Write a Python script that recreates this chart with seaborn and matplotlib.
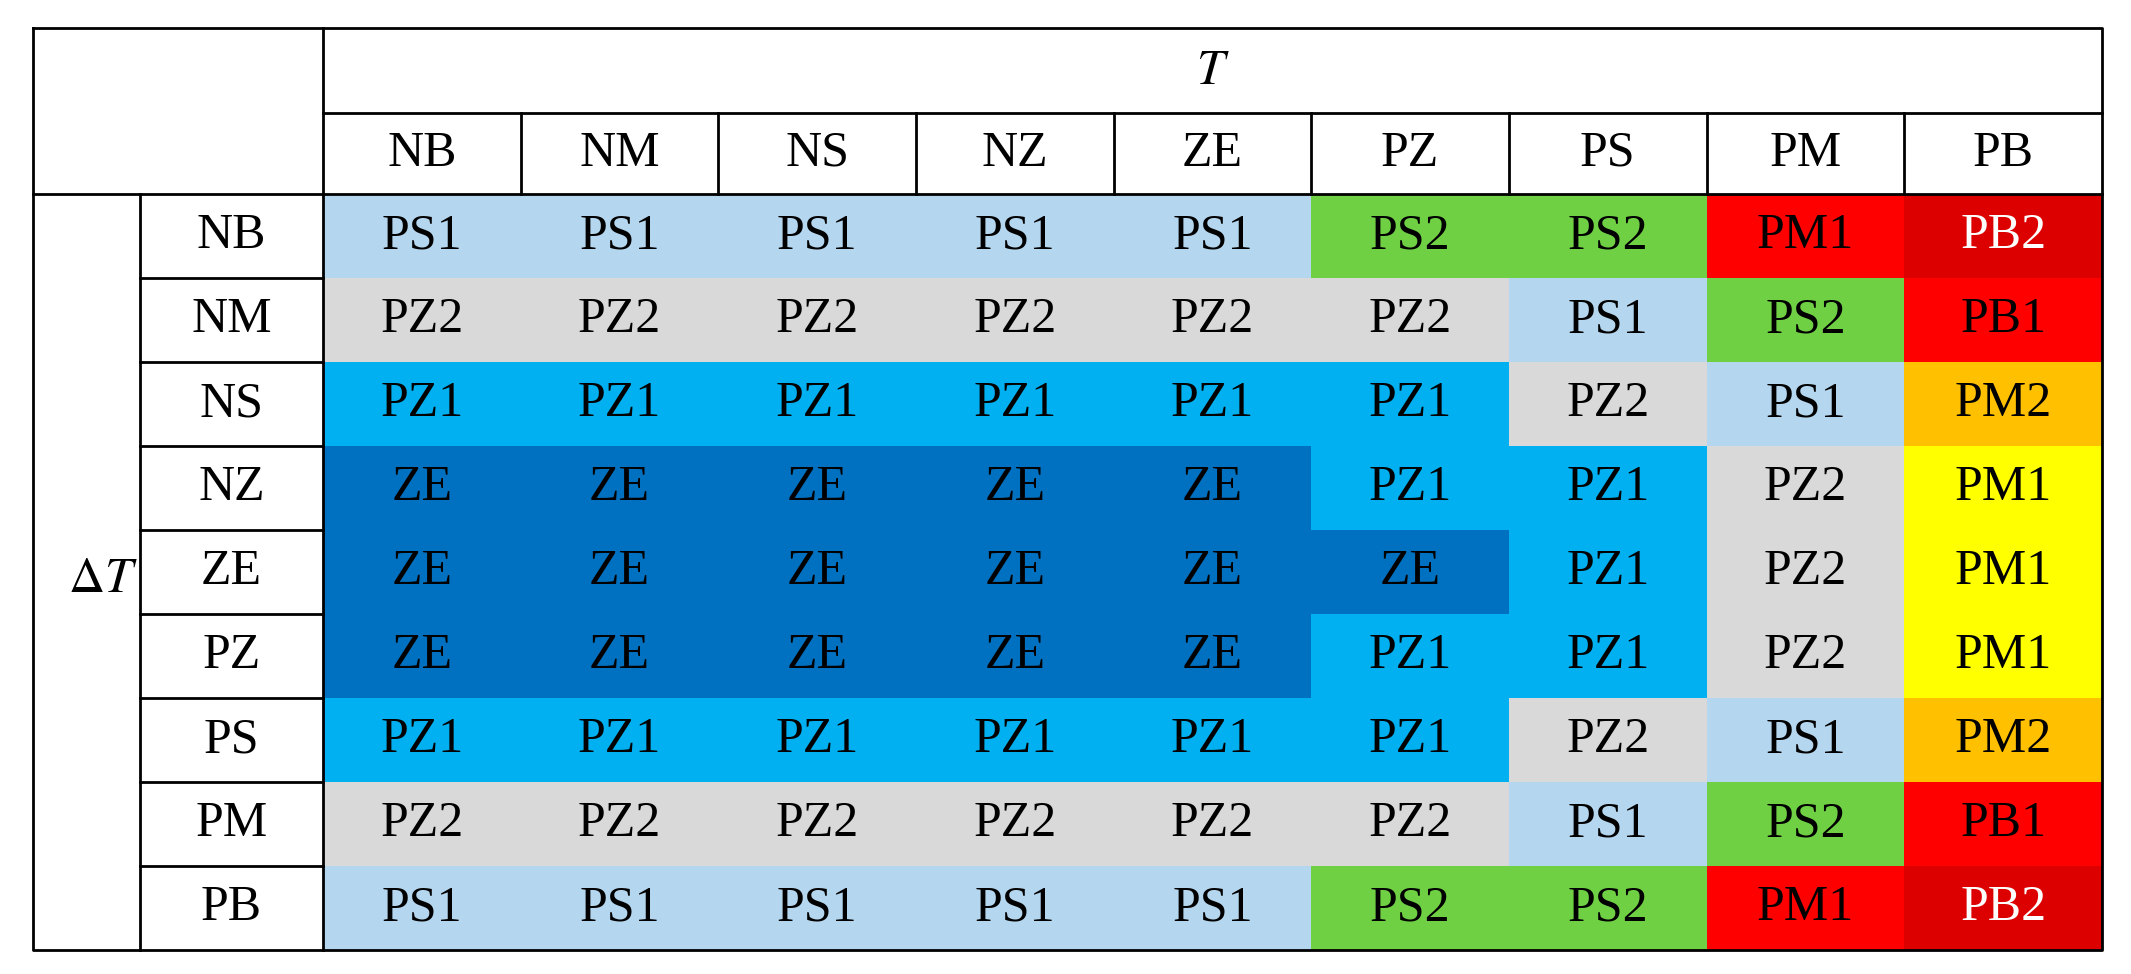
import numpy as np
import pandas as pd
import matplotlib.pyplot as plt
import seaborn as sns
from matplotlib.colors import ListedColormap

# Rótulos linguísticos
t_labels = ['NB', 'NM', 'NS', 'NZ', 'ZE', 'PZ', 'PS', 'PM', 'PB']
dt_labels = ['NB', 'NM', 'NS', 'NZ', 'ZE', 'PZ', 'PS', 'PM', 'PB']

# Saída da regra (texto de cada célula)
rule_out = [
    ['PS1', 'PS1', 'PS1', 'PS1', 'PS1', 'PS2', 'PS2', 'PM1', 'PB2'],
    ['PZ2', 'PZ2', 'PZ2', 'PZ2', 'PZ2', 'PZ2', 'PS1', 'PS2', 'PB1'],
    ['PZ1', 'PZ1', 'PZ1', 'PZ1', 'PZ1', 'PZ1', 'PZ2', 'PS1', 'PM2'],
    ['ZE', 'ZE', 'ZE', 'ZE', 'ZE', 'PZ1', 'PZ1', 'PZ2', 'PM1'],
    ['ZE', 'ZE', 'ZE', 'ZE', 'ZE', 'ZE', 'PZ1', 'PZ2', 'PM1'],
    ['ZE', 'ZE', 'ZE', 'ZE', 'ZE', 'PZ1', 'PZ1', 'PZ2', 'PM1'],
    ['PZ1', 'PZ1', 'PZ1', 'PZ1', 'PZ1', 'PZ1', 'PZ2', 'PS1', 'PM2'],
    ['PZ2', 'PZ2', 'PZ2', 'PZ2', 'PZ2', 'PZ2', 'PS1', 'PS2', 'PB1'],
    ['PS1', 'PS1', 'PS1', 'PS1', 'PS1', 'PS2', 'PS2', 'PM1', 'PB2'],
]

# Nível de cor de cada célula
# 0 ZE, 1 PZ1, 2 PZ2, 3 PS1, 4 PS2, 5 amarelo, 6 PM2, 7 vermelho, 8 PB2
levels = [
    [3, 3, 3, 3, 3, 4, 4, 7, 8],
    [2, 2, 2, 2, 2, 2, 3, 4, 7],
    [1, 1, 1, 1, 1, 1, 2, 3, 6],
    [0, 0, 0, 0, 0, 1, 1, 2, 5],
    [0, 0, 0, 0, 0, 0, 1, 2, 5],
    [0, 0, 0, 0, 0, 1, 1, 2, 5],
    [1, 1, 1, 1, 1, 1, 2, 3, 6],
    [2, 2, 2, 2, 2, 2, 3, 4, 7],
    [3, 3, 3, 3, 3, 4, 4, 7, 8],
]
palette = ['#0070C0', '#00B0F0', '#D9D9D9', '#B4D6EE', '#70D044',
           '#FFFF00', '#FFC000', '#FF0000', '#DC0000']

W, H = 2131, 974
left, right, top, bottom = 33, 2102, 28, 950
lab_x, dt_x = 323, 140
t_row_y, head_y = 113, 194

plt.rcParams['mathtext.fontset'] = 'stix'
font = 'Liberation Serif'
fs = 36

fig = plt.figure(figsize=(W / 100, H / 100), dpi=100)

# Heatmap das células coloridas
ax = fig.add_axes([lab_x / W, (H - bottom) / H, (right - lab_x) / W, (bottom - head_y) / H])
lev_df = pd.DataFrame(levels, index=dt_labels, columns=t_labels)
sns.heatmap(lev_df, ax=ax, cmap=ListedColormap(palette), vmin=-0.5, vmax=8.5,
            annot=np.array(rule_out), fmt='', cbar=False,
            annot_kws={'color': 'black', 'fontsize': fs, 'family': font})
ax.set_xticks([])
ax.set_yticks([])
ax.set_xlabel('')
ax.set_ylabel('')
for txt in ax.texts:
    if txt.get_text() == 'PB2':
        txt.set_color('white')

# Cabeçalhos e linhas da tabela
ov = fig.add_axes([0, 0, 1, 1])
ov.set_xlim(0, W)
ov.set_ylim(H, 0)
ov.axis('off')
ov.patch.set_alpha(0)

n = len(t_labels)
cw = (right - lab_x) / n
rh = (bottom - head_y) / n
lw = 2.0

ov.plot([left, right, right, left, left], [top, top, bottom, bottom, top], color='black', lw=lw)
ov.plot([lab_x, right], [t_row_y, t_row_y], color='black', lw=lw)
ov.plot([left, right], [head_y, head_y], color='black', lw=lw)
ov.plot([lab_x, lab_x], [top, bottom], color='black', lw=lw)
ov.plot([dt_x, dt_x], [head_y, bottom], color='black', lw=lw)
for i in range(1, n):
    x = lab_x + i * cw
    ov.plot([x, x], [t_row_y, head_y], color='black', lw=lw)
    y = head_y + i * rh
    ov.plot([dt_x, lab_x], [y, y], color='black', lw=lw)

for i, lab in enumerate(t_labels):
    ov.text(lab_x + (i + 0.5) * cw, (t_row_y + head_y) / 2, lab, ha='center', va='center',
            fontsize=fs, family=font)
for i, lab in enumerate(dt_labels):
    ov.text((dt_x + lab_x) / 2, head_y + (i + 0.5) * rh, lab, ha='center', va='center',
            fontsize=fs, family=font)

ov.text((lab_x + right) / 2, (top + t_row_y) / 2, r'$T$', ha='center', va='center', fontsize=fs)
ov.text(dt_x - 2, head_y + 4.5 * rh + 6, r'$\Delta T$', ha='right', va='center', fontsize=fs)

fig.savefig('out.png', dpi=100)
